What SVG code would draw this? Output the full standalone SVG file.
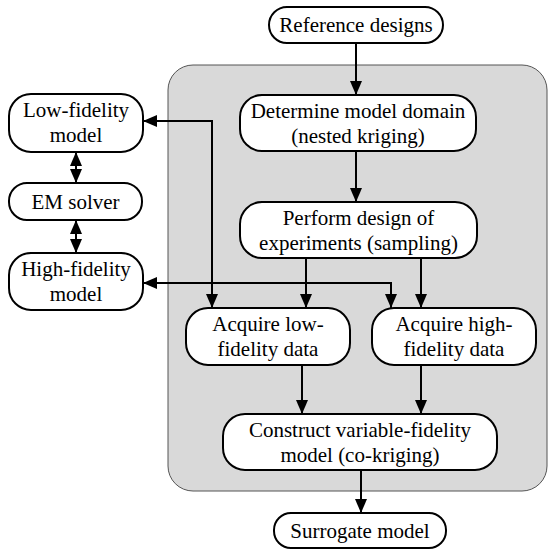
<svg xmlns="http://www.w3.org/2000/svg" width="548" height="549" viewBox="0 0 548 549">
<style>
.node rect{fill:#fff;stroke:#000;stroke-width:2}
.node text{font-family:'Liberation Serif','Times New Roman','DejaVu Serif',serif;font-size:21px;fill:#000;text-anchor:middle}
.conn path{fill:none;stroke:#000;stroke-width:2}
</style>
<defs>
<marker id="ah" viewBox="0 0 14 12" refX="14" refY="6" markerWidth="14" markerHeight="12" markerUnits="userSpaceOnUse" orient="auto-start-reverse">
<path d="M0,0 L14,6 L0,12 z" fill="#000"/>
</marker>
</defs>
<rect id="panel" x="168" y="65" width="379" height="426" rx="25" fill="#d9d9d9" stroke="#555" stroke-width="1"/>
<g class="conn">
<path d="M356,43 V95" marker-end="url(#ah)"/>
<path d="M356,151 V202" marker-end="url(#ah)"/>
<path d="M306,258 V308" marker-end="url(#ah)"/>
<path d="M421,258 V308" marker-end="url(#ah)"/>
<path d="M302,365 V414" marker-end="url(#ah)"/>
<path d="M421,365 V414" marker-end="url(#ah)"/>
<path d="M361,470 V513" marker-end="url(#ah)"/>
<path d="M143,121 H212 V308" marker-start="url(#ah)" marker-end="url(#ah)"/>
<path d="M143,283 H391 V308" marker-start="url(#ah)" marker-end="url(#ah)"/>
<path d="M76,152 V183" marker-start="url(#ah)" marker-end="url(#ah)"/>
<path d="M76,220 V253" marker-start="url(#ah)" marker-end="url(#ah)"/>
</g>
<g id="reference" class="node"><rect x="269" y="7" width="174" height="36" rx="18"/><text x="356" y="32">Reference designs</text></g>
<g id="determine" class="node"><rect x="240" y="95" width="236" height="56" rx="22"/><text x="358" y="118">Determine model domain</text><text x="358" y="143">(nested kriging)</text></g>
<g id="lowfid" class="node"><rect x="9" y="94" width="134" height="58" rx="22"/><text x="76" y="117">Low-fidelity</text><text x="76" y="142">model</text></g>
<g id="em" class="node"><rect x="9" y="183" width="133" height="37" rx="18"/><text x="75.5" y="209">EM solver</text></g>
<g id="highfid" class="node"><rect x="9" y="253" width="134" height="57" rx="22"/><text x="76" y="276">High-fidelity</text><text x="76" y="301">model</text></g>
<g id="perform" class="node"><rect x="240" y="202" width="237" height="56" rx="22"/><text x="358.5" y="225">Perform design of</text><text x="358.5" y="250">experiments (sampling)</text></g>
<g id="acqlow" class="node"><rect x="186" y="308" width="164" height="57" rx="22"/><text x="268" y="331">Acquire low-</text><text x="268" y="356">fidelity data</text></g>
<g id="acqhigh" class="node"><rect x="372" y="308" width="164" height="57" rx="22"/><text x="454" y="331">Acquire high-</text><text x="454" y="356">fidelity data</text></g>
<g id="construct" class="node"><rect x="223" y="414" width="274" height="56" rx="22"/><text x="360" y="437">Construct variable-fidelity</text><text x="360" y="462">model (co-kriging)</text></g>
<g id="surrogate" class="node"><rect x="274" y="513" width="172" height="35" rx="17"/><text x="360" y="538">Surrogate model</text></g>
</svg>
